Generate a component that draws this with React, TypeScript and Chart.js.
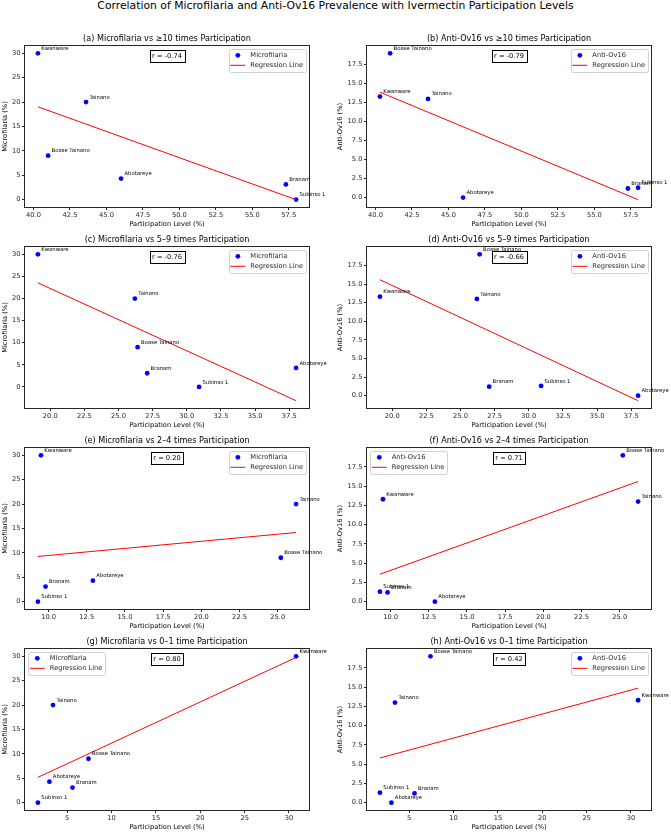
import React, { useEffect, useRef } from "react";
import { Chart, registerables } from "chart.js";
Chart.register(...registerables);

// ---------------- DATA ----------------
const villages = ["Kwanware", "Tainano", "Boase Tainano", "Abotareye", "Branam", "Subinso 1"];
const microfilaria = [30, 20, 9, 4.3, 3.1, 0];
const antiOv16 = [13.3, 13.0, 19.0, 0, 1.2, 1.3];
const part10plus = [40.3, 43.6, 41.0, 46.0, 57.3, 58.0];
const part5to9 = [19.1, 26.2, 26.4, 38.0, 27.1, 30.9];
const part2to4 = [9.5, 26.2, 25.2, 12.9, 9.8, 9.3];
const part0to1 = [30.8, 3.4, 7.4, 3.0, 5.6, 1.7];
const rLabels = ["-0.74", "-0.79", "-0.76", "-0.66", "0.20", "0.71", "0.80", "0.42"];
const panelTitles = [
  "(a) Microfilaria vs \u226510 times Participation",
  "(b) Anti-Ov16 vs \u226510 times Participation",
  "(c) Microfilaria vs 5\u20139 times Participation",
  "(d) Anti-Ov16 vs 5\u20139 times Participation",
  "(e) Microfilaria vs 2\u20134 times Participation",
  "(f) Anti-Ov16 vs 2\u20134 times Participation",
  "(g) Microfilaria vs 0\u20131 time Participation",
  "(h) Anti-Ov16 vs 0\u20131 time Participation",
];
const seriesNames = ["Microfilaria", "Anti-Ov16"];
const yAxisLabels = ["Microfilaria (%)", "Anti-Ov16 (%)"];
const xAxisLabel = "Participation Level (%)";
const regressionLabel = "Regression Line";
const xTickSteps = [2.5, 2.5, 2.5, 5];
const xTickDecimals = [1, 1, 1, 0];
const yTickSteps = [5, 2.5];
const yTickDecimals = [0, 1];
const legendSides = ["right", "right", "right", "right", "right", "left", "left", "right"];
const suptitle = "Correlation of Microfilaria and Anti-Ov16 Prevalence with Ivermectin Participation Levels";

// ---------------- LAYOUT ----------------
const FF = "'DejaVu Sans', sans-serif";
const ROW_TOPS = [46, 247, 448, 649];
const PLOT_H = 161;
const TOP_PAD = 18;
const CANVAS_H = 201;
const COL_LEFT = [0, 335];
const COL_W = [335, 336];
const Y_AXIS_W = [25, 32];
const RIGHT_PAD = [26, 20];

const participationRows = [part10plus, part5to9, part2to4, part0to1];

function linreg(xs: number[], ys: number[]) {
  const n = xs.length;
  const mx = xs.reduce((a, b) => a + b, 0) / n;
  const my = ys.reduce((a, b) => a + b, 0) / n;
  let sxy = 0, sxx = 0;
  for (let i = 0; i < n; i++) {
    sxy += (xs[i] - mx) * (ys[i] - my);
    sxx += (xs[i] - mx) * (xs[i] - mx);
  }
  const slope = sxy / sxx;
  return { slope, intercept: my - slope * mx };
}

function makeTicks(min: number, max: number, step: number) {
  const out: number[] = [];
  let v = Math.ceil((min - 1e-9) / step) * step;
  while (v <= max + 1e-9) {
    out.push(Math.round(v * 1000) / 1000);
    v += step;
  }
  return out;
}

function Panel({ idx }: { idx: number }) {
  const ref = useRef<HTMLCanvasElement | null>(null);
  const row = Math.floor(idx / 2);
  const col = idx % 2;
  useEffect(() => {
    if (!ref.current) return;
    const xs = participationRows[row];
    const ys = col === 0 ? microfilaria : antiOv16;
    const { slope, intercept } = linreg(xs, ys);
    const xmin = Math.min(...xs), xmax = Math.max(...xs);
    const line = [
      { x: xmin, y: intercept + slope * xmin },
      { x: xmax, y: intercept + slope * xmax },
    ];
    const allY = ys.concat(line.map((p) => p.y));
    const ylo = Math.min(...allY), yhi = Math.max(...allY);
    const xm = (xmax - xmin) * 0.05, ym = (yhi - ylo) * 0.05;
    const xMin = xmin - xm, xMax = xmax + xm, yMin = ylo - ym, yMax = yhi + ym;
    const xt = makeTicks(xMin, xMax, xTickSteps[row]);
    const yt = makeTicks(yMin, yMax, yTickSteps[col]);
    const tickFont = { family: FF, size: 6.7 };

    const overlay = {
      id: "overlay" + idx,
      afterDatasetsDraw(chart: any) {
        const { ctx, chartArea: a, scales } = chart;
        const sx = scales.x, sy = scales.y;
        ctx.save();
        // frame
        ctx.strokeStyle = "#262626";
        ctx.lineWidth = 1;
        ctx.strokeRect(a.left - 0.5, a.top - 0.5, a.right - a.left + 1, a.bottom - a.top + 1);
        // point labels
        ctx.fillStyle = "#000";
        ctx.font = `5.3px ${FF}`;
        ctx.textAlign = "left";
        ctx.textBaseline = "alphabetic";
        villages.forEach((v, i) => {
          ctx.fillText(v, sx.getPixelForValue(xs[i]) + 3.4, sy.getPixelForValue(ys[i]) - 3.4);
        });
        // panel title
        ctx.font = `8.1px ${FF}`;
        ctx.textAlign = "center";
        ctx.textBaseline = "middle";
        ctx.fillText(panelTitles[idx], (a.left + a.right) / 2, a.top - 7);
        // r box
        ctx.font = `6.7px ${FF}`;
        const rText = "r = " + rLabels[idx];
        const rw = ctx.measureText(rText).width;
        const cx = (a.left + a.right) / 2;
        const cy = a.top + 10.2;
        const bw = rw + 5, bh = 12.3;
        ctx.fillStyle = "#fff";
        ctx.fillRect(Math.round(cx - bw / 2) + 0.5, Math.round(cy - bh / 2) + 0.5, Math.round(bw), Math.round(bh));
        ctx.strokeStyle = "#000";
        ctx.strokeRect(Math.round(cx - bw / 2) + 0.5, Math.round(cy - bh / 2) + 0.5, Math.round(bw), Math.round(bh));
        ctx.fillStyle = "#000";
        ctx.fillText(rText, cx, cy + 0.3);
        // legend
        const labels = [seriesNames[col], regressionLabel];
        ctx.textAlign = "left";
        const tw = Math.max(...labels.map((l) => ctx.measureText(l).width));
        const padL = 1.8, handle = 15, gap = 5, padR = 3;
        const lw = padL + handle + gap + tw + padR;
        const lh = 23;
        const lx = legendSides[idx] === "right" ? a.right - 3 - lw : a.left + 3;
        const ly = a.top + 3;
        ctx.beginPath();
        const rr = 2;
        const L = Math.round(lx) + 0.5, T = Math.round(ly) + 0.5, W = Math.round(lw), Hh = lh;
        ctx.moveTo(L + rr, T);
        ctx.lineTo(L + W - rr, T);
        ctx.quadraticCurveTo(L + W, T, L + W, T + rr);
        ctx.lineTo(L + W, T + Hh - rr);
        ctx.quadraticCurveTo(L + W, T + Hh, L + W - rr, T + Hh);
        ctx.lineTo(L + rr, T + Hh);
        ctx.quadraticCurveTo(L, T + Hh, L, T + Hh - rr);
        ctx.lineTo(L, T + rr);
        ctx.quadraticCurveTo(L, T, L + rr, T);
        ctx.closePath();
        ctx.fillStyle = "rgba(255,255,255,0.8)";
        ctx.fill();
        ctx.strokeStyle = "#d0d0d0";
        ctx.stroke();
        const r1 = ly + 6.3, r2 = ly + 16.3;
        ctx.fillStyle = "#0000ff";
        ctx.beginPath();
        ctx.arc(lx + padL + handle / 2, r1, 2.4, 0, Math.PI * 2);
        ctx.fill();
        ctx.strokeStyle = "#ff0000";
        ctx.lineWidth = 1;
        ctx.beginPath();
        ctx.moveTo(lx + padL, r2);
        ctx.lineTo(lx + padL + handle, r2);
        ctx.stroke();
        ctx.fillStyle = "#262626";
        ctx.textBaseline = "middle";
        ctx.fillText(labels[0], lx + padL + handle + gap, r1 + 0.3);
        ctx.fillText(labels[1], lx + padL + handle + gap, r2 + 0.3);
        ctx.restore();
      },
    };

    const chart = new Chart(ref.current, {
      type: "scatter",
      data: {
        datasets: [
          {
            label: seriesNames[col],
            data: xs.map((x, i) => ({ x, y: ys[i] })),
            backgroundColor: "#0000ff",
            borderColor: "#0000ff",
            borderWidth: 0,
            pointRadius: 2.4,
            order: 1,
          },
          {
            label: regressionLabel,
            data: line,
            showLine: true,
            borderColor: "#ff0000",
            borderWidth: 1,
            pointRadius: 0,
            fill: false,
            order: 0,
          },
        ],
      },
      options: {
        animation: false,
        responsive: false,
        devicePixelRatio: 1,
        layout: { padding: { top: TOP_PAD, left: 0, right: RIGHT_PAD[col], bottom: 0 } },
        plugins: { legend: { display: false }, tooltip: { enabled: false }, title: { display: false } },
        scales: {
          x: {
            type: "linear",
            position: "bottom",
            min: xMin,
            max: xMax,
            bounds: "data",
            afterFit: (s: any) => { s.height = CANVAS_H - TOP_PAD - PLOT_H; },
            afterBuildTicks: (s: any) => { s.ticks = xt.map((v) => ({ value: v })); },
            grid: { display: true, drawOnChartArea: false, drawTicks: true, tickLength: 3, color: "#262626", lineWidth: 1 },
            border: { display: false },
            ticks: {
              font: tickFont,
              color: "#262626",
              padding: 1.5,
              maxRotation: 0,
              minRotation: 0,
              autoSkip: false,
              callback: (v: any) => Number(v).toFixed(xTickDecimals[row]),
            },
            title: { display: true, text: xAxisLabel, font: { family: FF, size: 6.7 }, color: "#000", padding: { top: 0, bottom: 0.7 } },
          },
          y: {
            type: "linear",
            position: "left",
            min: yMin,
            max: yMax,
            bounds: "data",
            afterFit: (s: any) => { s.width = Y_AXIS_W[col]; },
            afterBuildTicks: (s: any) => { s.ticks = yt.map((v) => ({ value: v })); },
            grid: { display: true, drawOnChartArea: false, drawTicks: true, tickLength: 3, color: "#262626", lineWidth: 1 },
            border: { display: false },
            ticks: {
              font: tickFont,
              color: "#262626",
              padding: 1.5,
              autoSkip: false,
              callback: (v: any) => Number(v).toFixed(yTickDecimals[col]),
            },
            title: { display: true, text: yAxisLabels[col], font: { family: FF, size: 6.7 }, color: "#000", padding: { top: 0.8, bottom: 0 } },
          },
        },
      },
      plugins: [overlay],
    } as any);
    return () => chart.destroy();
  }, [idx, row, col]);
  return (
    <canvas
      ref={ref}
      width={COL_W[col]}
      height={CANVAS_H}
      style={{ position: "absolute", left: COL_LEFT[col], top: ROW_TOPS[row] - TOP_PAD, width: COL_W[col], height: CANVAS_H }}
    />
  );
}

export default function App() {
  return (
    <div style={{ position: "absolute", left: 0, top: 0, width: 671, height: 832, background: "#fff", overflow: "hidden" }}>
      <div
        style={{
          position: "absolute",
          left: 0,
          top: 0.5,
          width: 671,
          textAlign: "center",
          fontFamily: FF,
          fontSize: "10.8px",
          lineHeight: 1,
          color: "#000",
          whiteSpace: "nowrap",
        }}
      >
        {suptitle}
      </div>
      {[0, 1, 2, 3, 4, 5, 6, 7].map((i) => (
        <Panel key={i} idx={i} />
      ))}
    </div>
  );
}
